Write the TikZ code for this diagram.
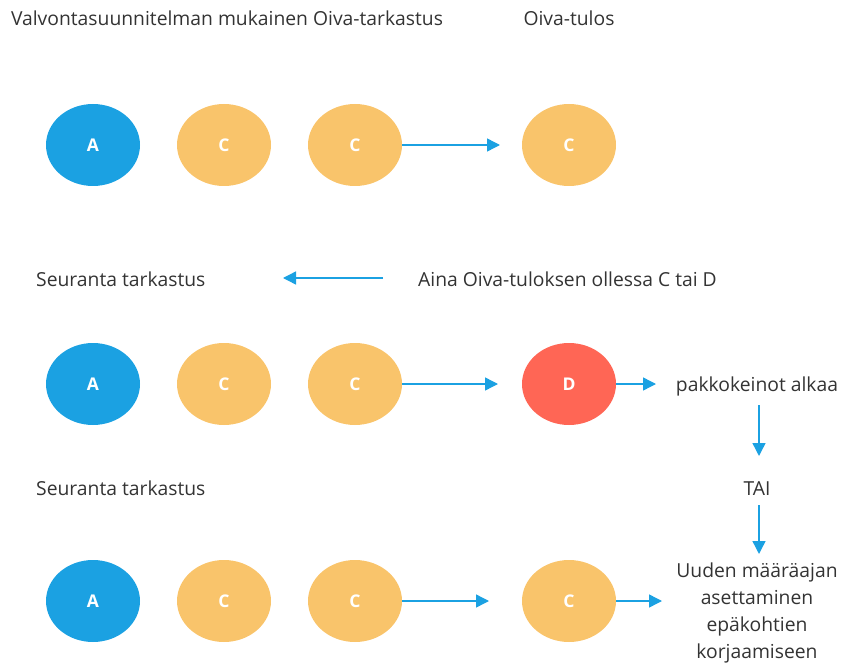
\documentclass[tikz,border=0pt]{standalone}
\usepackage{fontspec}
\setmainfont{Open Sans}
\usetikzlibrary{shapes.geometric,arrows.meta}
\definecolor{gradeA}{HTML}{1BA1E2}
\definecolor{gradeC}{HTML}{F9C46B}
\definecolor{gradeD}{HTML}{FF6655}
\definecolor{flow}{HTML}{1BA1E2}
\definecolor{txt}{HTML}{333333}
\tikzset{
  grade/.style={ellipse,minimum width=94pt,minimum height=82pt,inner sep=0pt,
    text=white,font=\fontsize{17.5}{17.5}\selectfont\bfseries},
  ga/.style={grade,fill=gradeA},
  gc/.style={grade,fill=gradeC},
  gd/.style={grade,fill=gradeD},
  lbl/.style={text=txt,font=\fontsize{19.3}{24}\selectfont,inner sep=0pt},
  flowarrow/.style={draw=flow,line width=1.4pt,-{Triangle[length=13pt,width=13pt]}}
}
\begin{document}
\begin{tikzpicture}[x=1pt,y=-1pt]
\useasboundingbox (0,0) rectangle (841,666);
% headings
\node[lbl] (head1) at (227,18) {Valvontasuunnitelman mukainen Oiva-tarkastus};
\node[lbl] (head2) at (569,18) {Oiva-tulos};
% row 1: regular inspection
\node[ga] (r1a) at (93,145) {A};
\node[gc] (r1b) at (224,145) {C};
\node[gc] (r1c) at (355,145) {C};
\node[gc] (r1d) at (569,145) {C};
\coordinate (r1tip) at (500,145);
\draw[flowarrow] (r1c.east) -- (r1tip);
% follow-up note
\node[lbl,anchor=west] (follow1) at (36,279) {Seuranta tarkastus};
\node[lbl,anchor=west] (always) at (418,279) {Aina Oiva-tuloksen ollessa C tai D};
\coordinate (backstart) at (383,278);
\coordinate (backtip) at (283,278);
\draw[flowarrow] (backstart) -- (backtip);
% row 2: follow-up ends in D
\node[ga] (r2a) at (93,384) {A};
\node[gc] (r2b) at (224,384) {C};
\node[gc] (r2c) at (355,384) {C};
\node[gd] (r2d) at (569,384) {D};
\node[lbl] (force) at (757,386) {pakkokeinot alkaa};
\coordinate (r2tip) at (498,384);
\coordinate (forcetip) at (656,384);
\draw[flowarrow] (r2c.east) -- (r2tip);
\draw[flowarrow] (r2d.east) -- (forcetip);
\node[lbl] (or) at (757,489) {TAI};
\coordinate (orin1) at (759,405);
\coordinate (orin2) at (759,456);
\draw[flowarrow] (orin1) -- (orin2);
% row 3: follow-up ends in C
\node[lbl,anchor=west] (follow2) at (36,488) {Seuranta tarkastus};
\node[ga] (r3a) at (93,601) {A};
\node[gc] (r3b) at (224,601) {C};
\node[gc] (r3c) at (355,601) {C};
\node[gc] (r3d) at (569,601) {C};
\node[lbl,align=center,font=\fontsize{19.3}{26.7}\selectfont] (deadline) at (757,613)
  {Uuden määräajan\\asettaminen\\epäkohtien\\korjaamiseen};
\coordinate (r3tip) at (489,601);
\coordinate (deadtip) at (662,601);
\coordinate (orout1) at (759,505);
\coordinate (orout2) at (759,554);
\draw[flowarrow] (r3c.east) -- (r3tip);
\draw[flowarrow] (r3d.east) -- (deadtip);
\draw[flowarrow] (orout1) -- (orout2);
\end{tikzpicture}
\end{document}
